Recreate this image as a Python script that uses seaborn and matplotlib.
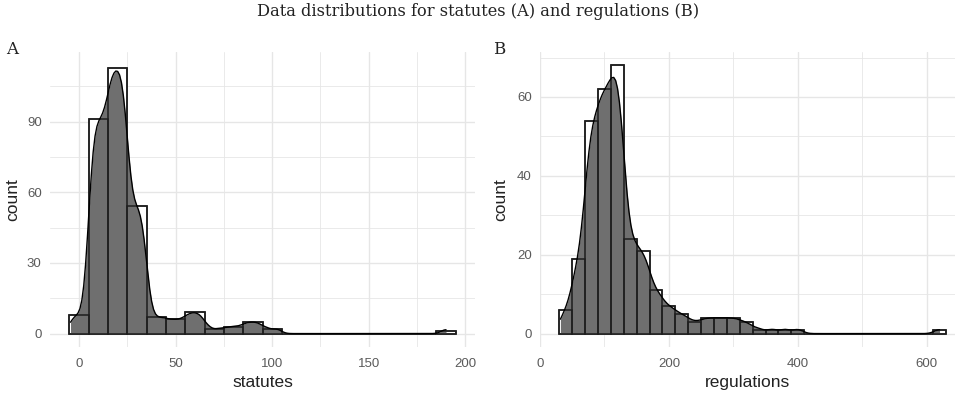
import numpy as np
import pandas as pd
import matplotlib
matplotlib.use("Agg")
import matplotlib.pyplot as plt
from matplotlib.ticker import FixedLocator
import seaborn as sns

# ---- data (histogram bin centres and counts) ----
statute_bin_centers = [0, 10, 20, 30, 40, 50, 60, 70, 80, 90, 100, 110, 120, 130,
                       140, 150, 160, 170, 180, 190]
statute_counts = [8, 91, 113, 54, 7, 6, 9, 2, 3, 5, 2, 0, 0, 0, 0, 0, 0, 0, 0, 1]
statute_binwidth = 10

regulation_bin_centers = list(range(40, 640, 20))
regulation_counts = [6, 19, 54, 62, 68, 24, 21, 11, 7, 5, 3, 4, 4, 4, 3, 1, 1, 1, 1,
                     0, 0, 0, 0, 0, 0, 0, 0, 0, 0, 1]
regulation_binwidth = 20

title_text = "Data distributions for statutes (A) and regulations (B)"


def observations(centers, counts, width):
    vals = []
    for c, k in zip(centers, counts):
        if k:
            vals.extend(c - width / 2 + (np.arange(k) + 0.5) * width / k)
    return np.array(vals)


statutes = pd.DataFrame({"statutes": observations(statute_bin_centers, statute_counts, statute_binwidth)})
regulations = pd.DataFrame({"regulations": observations(regulation_bin_centers, regulation_counts, regulation_binwidth)})

W, H = 956, 393
fig = plt.figure(figsize=(W / 100, H / 100), dpi=100)
sns.set_style("white")
plt.rcParams["font.family"] = ["Liberation Sans", "DejaVu Sans"]

axA = fig.add_axes([50 / W, (H - 347) / H, 425 / W, 295 / H])
axB = fig.add_axes([540 / W, (H - 347) / H, 415 / W, 295 / H])

DENS = "#6f6f6f"
EDGE = "#1e1e1e"
GRID = "#e6e6e6"
TICK = "#5a5a5a"


def panel(ax, df, col, width, brange, bw_adjust):
    sns.histplot(data=df, x=col, binwidth=width, binrange=brange, stat="count",
                 color="white", alpha=1, edgecolor=EDGE, linewidth=1.1,
                 kde=True, kde_kws=dict(bw_adjust=bw_adjust, cut=0),
                 ax=ax, zorder=2)
    line = ax.lines[-1]
    line.set_color("black")
    line.set_linewidth(1.0)
    line.set_zorder(5)
    xs, ys = line.get_data()
    ax.fill_between(xs, 0, ys, color=DENS, linewidth=0, zorder=3)
    sns.histplot(data=df, x=col, binwidth=width, binrange=brange, stat="count",
                 fill=False, color=EDGE, linewidth=1.1, ax=ax, zorder=4)


panel(axA, statutes, "statutes", statute_binwidth, (-5, 195), 0.38)
panel(axB, regulations, "regulations", regulation_binwidth, (30, 630), 0.38)

axA.set_xlim(-15, 205)
axA.set_ylim(-5.7, 119.6)
axA.xaxis.set_major_locator(FixedLocator([0, 50, 100, 150, 200]))
axA.xaxis.set_minor_locator(FixedLocator([25, 75, 125, 175]))
axA.yaxis.set_major_locator(FixedLocator([0, 30, 60, 90]))
axA.yaxis.set_minor_locator(FixedLocator([15, 45, 75, 105]))

axB.set_xlim(0, 644)
axB.set_ylim(-3.4, 71.4)
axB.xaxis.set_major_locator(FixedLocator([0, 200, 400, 600]))
axB.xaxis.set_minor_locator(FixedLocator([100, 300, 500]))
axB.yaxis.set_major_locator(FixedLocator([0, 20, 40, 60]))
axB.yaxis.set_minor_locator(FixedLocator([10, 30, 50, 70]))

for ax, xl in ((axA, "statutes"), (axB, "regulations")):
    ax.set_facecolor("white")
    for s in ax.spines.values():
        s.set_visible(False)
    ax.set_axisbelow(True)
    ax.grid(which="major", color=GRID, linewidth=1.0, zorder=0)
    ax.grid(which="minor", color=GRID, linewidth=0.6, zorder=0)
    ax.tick_params(which="both", length=0)
    ax.tick_params(axis="x", pad=8, labelsize=9.5, labelcolor=TICK)
    ax.tick_params(axis="y", pad=6, labelsize=9.5, labelcolor=TICK)
    ax.set_xlabel(xl, fontsize=12.5, color="#222222")
    ax.set_ylabel("count", fontsize=12.5, color="#222222")
    ax.xaxis.set_label_coords(0.5, -0.095)

axA.yaxis.set_label_coords(-0.070, 0.5)
axB.yaxis.set_label_coords(-0.077, 0.5)

serif = ["DejaVu Serif"]
fig.text(0.5, 1 - 12 / H, title_text, ha="center", va="center", fontsize=11.7, family=serif, color="#222222")
fig.text(6 / W, 1 - 50 / H, "A", ha="left", va="center", fontsize=12, family=serif, color="#222222")
fig.text(493 / W, 1 - 50 / H, "B", ha="left", va="center", fontsize=12, family=serif, color="#222222")

fig.savefig("out.png", dpi=100, facecolor="white")
